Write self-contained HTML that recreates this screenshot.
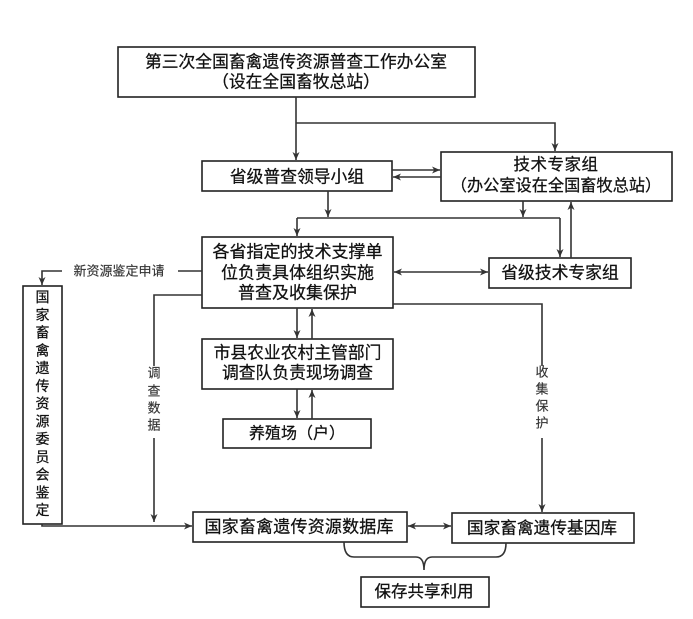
<!DOCTYPE html>
<html>
<head>
<meta charset="utf-8">
<style>
  html,body{margin:0;padding:0;background:#fff;}
  svg{display:block;}
  text{font-family:"Liberation Sans","Noto Sans CJK SC",sans-serif;fill:#111;dominant-baseline:central;text-anchor:middle;stroke:#111;stroke-width:0.25;}
  .box{fill:#fff;stroke:#222;stroke-width:1.6;}
  .ln{fill:none;stroke:#333;stroke-width:1.6;}
  .sm{font-size:13px;fill:#333;stroke:#333;stroke-width:0.15;}
  .vb{font-size:14px;}
</style>
</head>
<body>
<svg width="693" height="619" viewBox="0 0 693 619" xmlns="http://www.w3.org/2000/svg">
  <defs>
    <marker id="ah" markerUnits="userSpaceOnUse" markerWidth="9" markerHeight="8" refX="8" refY="4" orient="auto-start-reverse">
      <path d="M0,0.5 L8,4 L0,7.5 L2.2,4 Z" fill="#333"/>
    </marker>
  </defs>

  <!-- Boxes -->
  <rect class="box" x="118" y="47" width="357" height="50"/>
  <rect class="box" x="202" y="161" width="190" height="30"/>
  <rect class="box" x="441" y="152" width="231" height="49"/>
  <rect class="box" x="202" y="237" width="191" height="71"/>
  <rect class="box" x="489" y="258" width="142" height="30"/>
  <rect class="box" x="202" y="339" width="191" height="50"/>
  <rect class="box" x="223" y="419" width="148" height="29"/>
  <rect class="box" x="23" y="286" width="39" height="238"/>
  <rect class="box" x="193" y="512" width="214" height="30"/>
  <rect class="box" x="452" y="513" width="182" height="30"/>
  <rect class="box" x="361" y="577" width="128" height="30"/>

  <!-- Connectors -->
  <path class="ln" d="M296,97 L296,160" marker-end="url(#ah)"/>
  <path class="ln" d="M296,123 L555,123 L555,151" marker-end="url(#ah)"/>
  <path class="ln" d="M392,170 L440,170" marker-end="url(#ah)"/>
  <path class="ln" d="M441,177 L393,177" marker-end="url(#ah)"/>
  <path class="ln" d="M328,191 L328,217" marker-end="url(#ah)"/>
  <path class="ln" d="M523,201 L523,217" marker-end="url(#ah)"/>
  <path class="ln" d="M297,218 L560,218"/>
  <path class="ln" d="M297,218 L297,236" marker-end="url(#ah)"/>
  <path class="ln" d="M560,218 L560,257" marker-end="url(#ah)"/>
  <path class="ln" d="M571,258 L571,202" marker-end="url(#ah)"/>
  <path class="ln" d="M394,272 L488,272" marker-start="url(#ah)" marker-end="url(#ah)"/>
  <path class="ln" d="M393,304 L542,304 L542,366"/>
  <path class="ln" d="M542,438 L542,512" marker-end="url(#ah)"/>
  <path class="ln" d="M202,295 L154,295 L154,366"/>
  <path class="ln" d="M154,438 L154,522" marker-end="url(#ah)"/>
  <path class="ln" d="M202,271 L178,271"/>
  <path class="ln" d="M62,271 L42,271 L42,285" marker-end="url(#ah)"/>
  <path class="ln" d="M42,524 L42,526 L192,526" marker-end="url(#ah)"/>
  <path class="ln" d="M297,308 L297,338" marker-end="url(#ah)"/>
  <path class="ln" d="M312,339 L312,309" marker-end="url(#ah)"/>
  <path class="ln" d="M297,389 L297,418" marker-end="url(#ah)"/>
  <path class="ln" d="M312,419 L312,390" marker-end="url(#ah)"/>
  <path class="ln" d="M408,526 L451,526" marker-start="url(#ah)" marker-end="url(#ah)"/>
  <!-- brace -->
  <path class="ln" d="M344,542 Q344,557 354,557 L416,557 Q424,557 424,570 Q424,557 432,557 L496,557 Q506,557 506,543"/>

  <!-- Text -->
  <text x="296" y="62" style="font-size:16.8px">第三次全国畜禽遗传资源普查工作办公室</text>
  <text x="296" y="82" style="font-size:16.8px">（设在全国畜牧总站）</text>
  <text x="297" y="177" style="font-size:16.8px">省级普查领导小组</text>
  <text x="556" y="165" style="font-size:16.5px;letter-spacing:0.5px">技术专家组</text>
  <text x="556" y="186" style="font-size:16.2px">（办公室设在全国畜牧总站）</text>
  <text x="297.5" y="252" style="font-size:17px">各省指定的技术支撑单</text>
  <text x="297.5" y="273" style="font-size:17px">位负责具体组织实施</text>
  <text x="297.5" y="293" style="font-size:17px">普查及收集保护</text>
  <text x="560" y="273" style="font-size:16.8px">省级技术专家组</text>
  <text x="297.5" y="353" style="font-size:16.8px">市县农业农村主管部门</text>
  <text x="297.5" y="373" style="font-size:16.8px">调查队负责现场调查</text>
  <text x="297" y="434" style="font-size:16px">养殖场（户）</text>
  <text x="299" y="527" style="font-size:17px" textLength="189" lengthAdjust="spacing">国家畜禽遗传资源数据库</text>
  <text x="542" y="528" style="font-size:16.7px">国家畜禽遗传基因库</text>
  <text x="424" y="592" style="font-size:16.5px">保存共享利用</text>

  <!-- small labels -->
  <text class="sm" x="119" y="271">新资源鉴定申请</text>
  <text class="sm" x="154" y="373">调</text>
  <text class="sm" x="154" y="391">查</text>
  <text class="sm" x="154" y="408">数</text>
  <text class="sm" x="154" y="425">据</text>
  <text class="sm" x="542" y="372">收</text>
  <text class="sm" x="542" y="389">集</text>
  <text class="sm" x="542" y="406">保</text>
  <text class="sm" x="542" y="423">护</text>

  <!-- vertical box text -->
  <text class="vb" x="42.5" y="297">国</text>
  <text class="vb" x="42.5" y="314.75">家</text>
  <text class="vb" x="42.5" y="332.5">畜</text>
  <text class="vb" x="42.5" y="350.25">禽</text>
  <text class="vb" x="42.5" y="368">遗</text>
  <text class="vb" x="42.5" y="385.75">传</text>
  <text class="vb" x="42.5" y="403.5">资</text>
  <text class="vb" x="42.5" y="421.25">源</text>
  <text class="vb" x="42.5" y="439">委</text>
  <text class="vb" x="42.5" y="456.75">员</text>
  <text class="vb" x="42.5" y="474.5">会</text>
  <text class="vb" x="42.5" y="492.25">鉴</text>
  <text class="vb" x="42.5" y="510">定</text>
</svg>
</body>
</html>
